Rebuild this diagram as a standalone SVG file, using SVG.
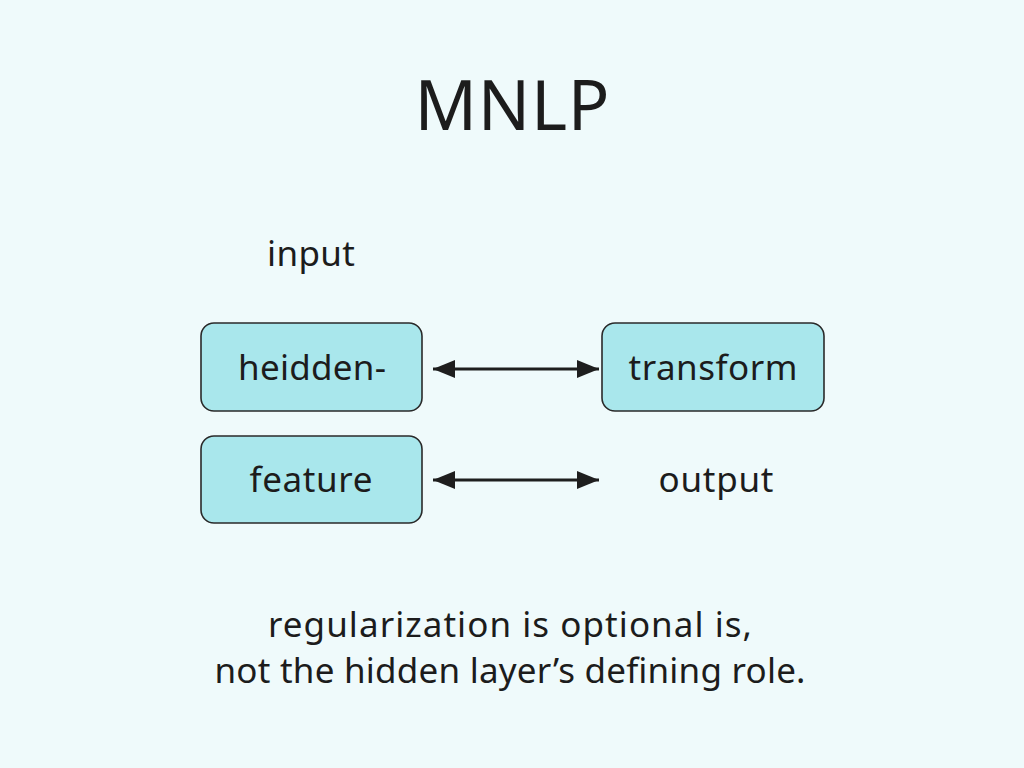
<svg xmlns="http://www.w3.org/2000/svg" width="1024" height="768" viewBox="0 0 1024 768">
<defs>
<style>
text{font-family:"Noto Sans","DejaVu Sans",sans-serif;fill:#1c1c1c;text-anchor:middle}
.box{fill:#a9e7ec;stroke:#2a2a2a;stroke-width:1.6}
.lbl{font-size:35px}
.note{font-size:35px}
.conn{stroke:#1e1e1e;stroke-width:3;fill:none}
</style>
<marker id="a2" viewBox="0 0 22 18" refX="22" refY="9" markerWidth="22" markerHeight="18" markerUnits="userSpaceOnUse" orient="auto-start-reverse">
<path d="M0,0 L22,9 L0,18 z" fill="#1e1e1e"/>
</marker>
</defs>
<rect width="1024" height="768" fill="#effafb"/>
<text x="512" y="130" font-size="69" textLength="195" lengthAdjust="spacing">MNLP</text>
<text class="lbl" x="311" y="266" textLength="88" lengthAdjust="spacing">input</text>
<g id="node-heidden">
<rect class="box" x="201" y="323" width="221" height="88" rx="13"/>
<text class="lbl" x="312" y="380" textLength="148" lengthAdjust="spacing">heidden-</text>
</g>
<g id="node-transform">
<rect class="box" x="602" y="323" width="222" height="88" rx="13"/>
<text class="lbl" x="713" y="380" textLength="169" lengthAdjust="spacing">transform</text>
</g>
<g id="node-feature">
<rect class="box" x="201" y="436" width="221" height="87" rx="13"/>
<text class="lbl" x="311" y="492" textLength="123" lengthAdjust="spacing">feature</text>
</g>
<g id="node-output">
<text class="lbl" x="716" y="492" textLength="115" lengthAdjust="spacing">output</text>
</g>
<g id="connectors">
<line class="conn" x1="433" y1="369" x2="599" y2="369" marker-start="url(#a2)" marker-end="url(#a2)"/>
<line class="conn" x1="433" y1="480" x2="599" y2="480" marker-start="url(#a2)" marker-end="url(#a2)"/>
</g>
<text class="note" x="510" y="637" textLength="484" lengthAdjust="spacing">regularization is optional is,</text>
<text class="note" x="510" y="683" textLength="591" lengthAdjust="spacing">not the hidden layer’s defining role.</text>
</svg>
